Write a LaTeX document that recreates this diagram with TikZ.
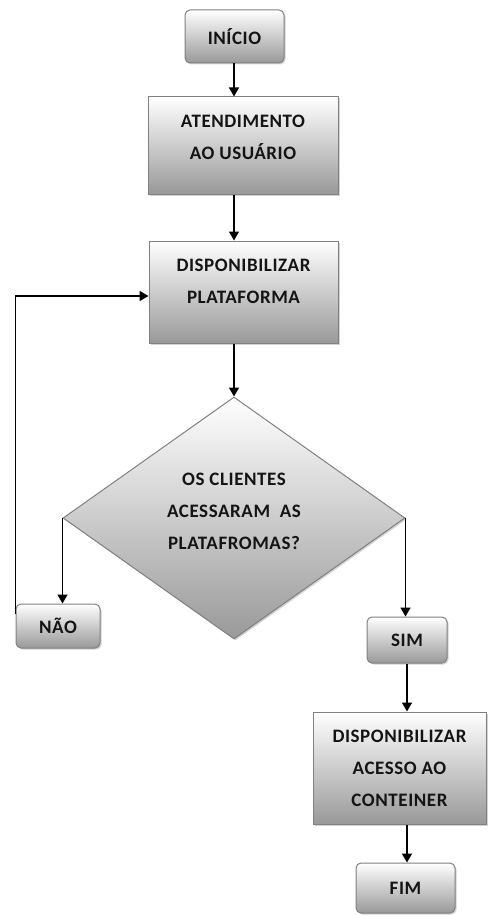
\documentclass[tikz,border=0pt]{standalone}
\usepackage{fontspec}
\setmainfont{Carlito}[LetterSpace=3]
\usetikzlibrary{shapes.geometric,arrows.meta,shadows,calc}
\begin{document}
\begin{tikzpicture}[x=1pt,y=-1pt,
  font=\bfseries\fontsize{19}{32}\selectfont,
  every node/.style={text=black!92},
  shade box/.style={draw=black!50, line width=1pt, top color=white, bottom color=black!40,
    drop shadow={shadow xshift=1.5pt,shadow yshift=-1.5pt,opacity=0.35},
    align=center, inner sep=0pt},
  procbox/.style={shade box, rectangle},
  termbox/.style={shade box, rounded corners=5pt},
  decbox/.style={shade box, diamond},
  boxtext/.style={align=center, inner sep=0pt},
  link/.style={line width=1.6pt, -{Triangle[length=9pt,width=10pt]}},
]
\useasboundingbox (0,0) rectangle (489,915);

% start
\node[termbox, minimum width=99pt, minimum height=53pt] (inicio) at (234.5,36.5) {INÍCIO};
% user attendance
\node[procbox, minimum width=190pt, minimum height=97pt,
  label={[boxtext, yshift=8pt]center:ATENDIMENTO\\AO USUÁRIO}] (atend) at (243,145.5) {};
% platform
\node[procbox, minimum width=189pt, minimum height=102pt,
  label={[boxtext, yshift=11pt]center:DISPONIBILIZAR\\PLATAFORMA}] (plat) at (243.5,292) {};
% decision
\node[decbox, minimum width=342pt, minimum height=242pt,
  label={[boxtext, yshift=7pt]center:OS CLIENTES\\ACESSARAM~ AS\\PLATAFROMAS?}] (dec) at (234,518) {};
% branches
\node[termbox, minimum width=84pt, minimum height=44pt] (nao) at (58,626) {NÃO};
\node[termbox, minimum width=80pt, minimum height=46pt] (sim) at (407,640) {SIM};
% container access
\node[procbox, minimum width=173pt, minimum height=112pt] (cont) at (399.5,768)
  {DISPONIBILIZAR\\ACESSO AO\\CONTEINER};
% end
\node[termbox, minimum width=99pt, minimum height=50pt] (fim) at (405.5,888) {FIM};

% connectors
\draw[link] (inicio.south -| dec.north) -- (atend.north -| dec.north);
\draw[link] (atend.south -| dec.north) -- (plat.north -| dec.north);
\draw[link] (plat.south -| dec.north) -- (dec.north);
\draw[link] (dec.west) -- (dec.west |- nao.north);
\draw[link] (dec.east) -- (dec.east |- sim.north);
\draw[link] (sim.south) -- (cont.north -| sim.south);
\draw[link] (cont.south -| sim.south) -- (fim.north -| sim.south);
% loop back from the negative answer to the platform step
\draw[link] ($(nao.north west)+(0,10)$) |- ([yshift=-4pt]plat.west);
\end{tikzpicture}
\end{document}
